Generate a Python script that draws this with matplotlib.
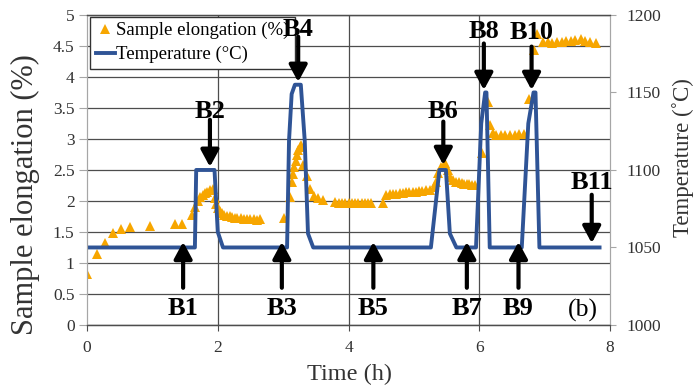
import matplotlib.pyplot as plt

plt.rcParams['font.family'] = ['Liberation Serif', 'DejaVu Serif']

# elongation readings: time (h) and elongation (%)
t_elong = [0.00, 0.16, 0.28, 0.39, 0.52, 0.66, 0.97, 1.35, 1.46,
           1.60, 1.65, 1.69, 1.73, 1.77, 1.80, 1.84, 1.88, 1.92,
           1.95, 1.97, 2.00, 2.03, 2.06, 2.10, 2.14, 2.18, 2.22, 2.26, 2.30, 2.35, 2.40, 2.45, 2.50, 2.55, 2.60, 2.65,
           3.02, 3.10, 3.13, 3.15, 3.17, 3.19, 3.21, 3.23, 3.26, 3.28, 3.31, 3.36, 3.41, 3.47, 3.53, 3.61,
           3.80, 3.85, 3.90, 3.95, 4.00, 4.05, 4.10, 4.15, 4.20, 4.25, 4.30, 4.35,
           4.52, 4.58, 4.63, 4.68, 4.73, 4.78, 4.83, 4.88, 4.93, 4.98, 5.03, 5.08, 5.13, 5.18, 5.24,
           5.30, 5.34, 5.37, 5.42, 5.47, 5.52, 5.55, 5.60, 5.65, 5.69, 5.73, 5.77, 5.81, 5.85, 5.89, 5.93,
           6.04, 6.13, 6.17, 6.21, 6.26, 6.33, 6.40, 6.47, 6.54, 6.61, 6.68,
           6.76, 6.79, 6.84, 6.88, 6.98, 7.05, 7.12, 7.19, 7.26, 7.33, 7.40, 7.47, 7.55, 7.62, 7.70, 7.79]
elong = [0.82, 1.15, 1.33, 1.48, 1.55, 1.58, 1.60, 1.63, 1.63,
         1.77, 1.91, 2.00, 2.06, 2.10, 2.13, 2.15, 2.17, 2.19,
         2.05, 1.95, 1.88, 1.84, 1.80, 1.78, 1.76, 1.75, 1.74, 1.73, 1.72, 1.72, 1.71, 1.71, 1.71, 1.71, 1.70, 1.71,
         1.72, 2.07, 2.30, 2.44, 2.55, 2.65, 2.74, 2.82, 2.87, 2.90, 2.58, 2.40, 2.20, 2.08, 2.04, 2.02,
         1.98, 1.97, 1.97, 1.97, 1.96, 1.97, 1.96, 1.96, 1.97, 1.96, 1.96, 1.96,
         1.96, 2.10, 2.11, 2.12, 2.12, 2.13, 2.13, 2.14, 2.14, 2.15, 2.15, 2.16, 2.16, 2.17, 2.17,
         2.22, 2.31, 2.45, 2.55, 2.61, 2.50, 2.39, 2.34, 2.31, 2.30, 2.29, 2.28, 2.28, 2.27, 2.26, 2.26,
         2.77, 3.60, 3.22, 3.10, 3.07, 3.07, 3.06, 3.07, 3.07, 3.08, 3.08,
         3.65, 4.03, 4.43, 4.70, 4.57, 4.56, 4.55, 4.57, 4.57, 4.58, 4.58, 4.60, 4.62, 4.58, 4.57, 4.54]

# temperature programme: time (h) and temperature (C)
t_temp = [0.00, 1.65, 1.67, 1.95, 2.00, 2.08,
          3.06, 3.09, 3.13, 3.18, 3.27, 3.33, 3.38, 3.46,
          5.26, 5.39, 5.49, 5.55, 5.65,
          5.95, 6.03, 6.09, 6.11, 6.16,
          6.65, 6.75, 6.83, 6.86, 6.92, 7.84]
temp = [1050, 1050, 1100, 1100, 1060, 1050,
        1050, 1119, 1149, 1155, 1155, 1119, 1059, 1050,
        1050, 1100, 1100, 1059, 1050,
        1050, 1130, 1150, 1150, 1050,
        1050, 1130, 1150, 1150, 1050, 1050]

# stage markers B1..B11
stage_names = ['B1', 'B2', 'B3', 'B4', 'B5', 'B6', 'B7', 'B8', 'B9', 'B10', 'B11']
stage_t = [1.47, 1.88, 2.98, 3.23, 4.38, 5.45, 5.81, 6.07, 6.60, 6.80, 7.72]
arrow_from = [0.60, 3.31, 0.60, 4.65, 0.60, 3.28, 0.60, 4.54, 0.60, 4.49, 2.10]
arrow_to = [1.34, 2.55, 1.34, 3.92, 1.34, 2.58, 1.34, 3.79, 1.34, 3.79, 1.32]
label_y = [0.27, 3.45, 0.27, 4.77, 0.27, 3.45, 0.27, 4.74, 0.27, 4.71, 2.30]

orange = '#F7A600'
blue = '#2F5496'
grid_c = '#4d4d4d'
axis_c = '#a6a6a6'
tick_c = '#333333'

fig = plt.figure(figsize=(6.99, 3.92), dpi=100)
ax = fig.add_axes([0.1245, 0.171, 0.7482, 0.7908])
ax2 = ax.twinx()

ax.plot(t_elong, elong, '^', color=orange, markersize=7.5, markeredgewidth=0,
        label='Sample elongation (%)')
ax2.plot(t_temp, temp, '-', color=blue, lw=2.8, solid_joinstyle='round',
         label='Temperature (°C)')

ax.set_xlim(0, 8)
ax.set_ylim(0, 5)
ax2.set_ylim(1000, 1200)
ax.set_xticks([0, 2, 4, 6, 8])
ax.set_yticks([0, 0.5, 1, 1.5, 2, 2.5, 3, 3.5, 4, 4.5, 5])
ax.set_yticklabels(['0', '0.5', '1', '1.5', '2', '2.5', '3', '3.5', '4', '4.5', '5'])
ax2.set_yticks([1000, 1050, 1100, 1150, 1200])

ax.yaxis.grid(True, color=grid_c, lw=0.9)
for gx in [2, 4, 6]:
    ax.axvline(gx, color=grid_c, lw=0.9, zorder=0.5)
ax.set_axisbelow(True)

for a in (ax, ax2):
    a.spines['left'].set_color(axis_c)
    a.spines['right'].set_color(axis_c)
    a.spines['top'].set_color(grid_c)
    a.spines['bottom'].set_color(grid_c)
    a.spines['top'].set_linewidth(0.9)
    a.spines['bottom'].set_linewidth(0.9)

ax.tick_params(axis='y', colors=axis_c, labelcolor=tick_c, labelsize=12.5, length=6, pad=3)
ax.tick_params(axis='x', colors=grid_c, labelcolor=tick_c, labelsize=12.5, length=4, pad=7)
ax2.tick_params(axis='y', colors=axis_c, labelcolor=tick_c, labelsize=12.5, length=4, pad=8)

ax.set_xlabel('Time (h)', fontsize=17.5, color=tick_c)
ax.xaxis.set_label_coords(0.501, -0.125)
ax.set_ylabel('Sample elongation (%)', fontsize=22, color=tick_c)
ax.yaxis.set_label_coords(-0.090, 0.42)
ax2.set_ylabel('Temperature (˚C)', fontsize=16.5, color=tick_c)
ax2.yaxis.set_label_coords(1.118, 0.54)

h1, l1 = ax.get_legend_handles_labels()
h2, l2 = ax2.get_legend_handles_labels()
leg = ax2.legend(h1 + h2, l1 + l2, loc='upper left', bbox_to_anchor=(0.006, 0.995),
                 borderaxespad=0, fontsize=13.5, frameon=True, fancybox=False,
                 framealpha=1, edgecolor='#333333', handlelength=1.0,
                 handletextpad=0.1, labelspacing=0.35, borderpad=0.3)
leg.get_frame().set_linewidth(1.0)

# arrows and stage labels, in elongation coordinates, on top of everything
for name, st, y0, y1, ly in zip(stage_names, stage_t, arrow_from, arrow_to, label_y):
    ax2.annotate('', xy=(st, y1), xytext=(st, y0),
                 xycoords=ax.transData, textcoords=ax.transData,
                 arrowprops=dict(arrowstyle='-|>,head_length=0.5,head_width=0.27',
                                 lw=3, color='black', mutation_scale=20,
                                 shrinkA=0, shrinkB=0), zorder=10)
    ax2.text(st, ly, name, transform=ax.transData, ha='center', va='center',
             fontsize=19, fontweight='bold', color='black', zorder=11)

ax2.text(7.59, 0.24, '(b)', transform=ax.transData, ha='center', va='center',
         fontsize=18.5, color='black', zorder=11)

fig.savefig('out.png', dpi=100)
